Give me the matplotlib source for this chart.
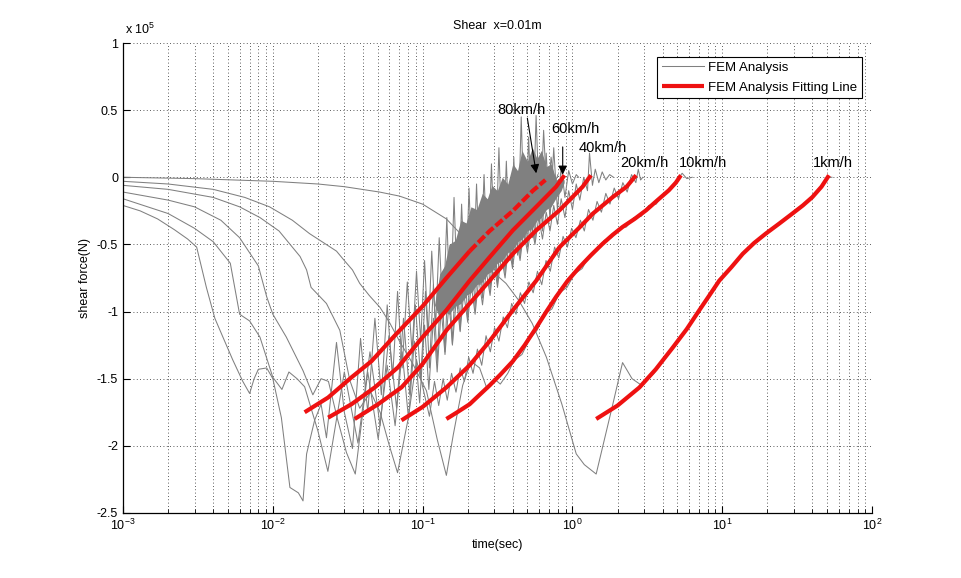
import matplotlib
matplotlib.use("Agg")
import matplotlib.pyplot as plt

plt.rcParams['font.family'] = ['Liberation Sans', 'DejaVu Sans']
plt.rcParams['mathtext.fontset'] = 'custom'
plt.rcParams['mathtext.rm'] = 'Liberation Sans'
plt.rcParams['mathtext.it'] = 'Liberation Sans:italic'

# FEM analysis curves (shear force in 1e5 N)
t80 = [0.001, 0.0013, 0.0017, 0.0022, 0.0027, 0.0031, 0.0036, 0.0041, 0.0046, 0.0054, 0.0063, 0.0070, 0.0075, 0.0080, 0.0091, 0.0100, 0.0114, 0.0130, 0.0148, 0.0159,
       0.0168, 0.0190, 0.0210, 0.0228, 0.0266, 0.0300, 0.0340, 0.0385, 0.0430, 0.0480, 0.0530, 0.0580, 0.0630, 0.0680, 0.0730, 0.0790, 0.0850, 0.0910, 0.0970, 0.1030,
       0.109, 0.115, 0.122, 0.129, 0.137, 0.145, 0.153, 0.162, 0.172, 0.182, 0.193, 0.204, 0.216, 0.229, 0.242, 0.257, 0.272, 0.288, 0.305, 0.323,
       0.342, 0.362, 0.384, 0.406, 0.430, 0.455, 0.482, 0.510, 0.540, 0.572, 0.606, 0.642, 0.680, 0.720, 0.760, 0.800]
f80 = [-0.21, -0.25, -0.31, -0.39, -0.46, -0.52, -0.82, -1.05, -1.18, -1.36, -1.52, -1.61, -1.50, -1.43, -1.42, -1.50, -1.79, -2.31, -2.35, -2.41,
       -2.06, -1.81, -1.69, -1.94, -1.23, -1.75, -2.02, -1.20, -1.75, -1.05, -1.62, -0.95, -1.50, -0.85, -1.42, -0.78, -1.30, -0.70, -1.22, -0.62,
       -1.18, -0.55, -1.12, -0.45, -1.05, -0.30, -1.02, -0.15, -0.98, -0.20, -0.90, -0.08, -0.85, -0.05, -0.80, 0.02, -0.72, 0.10, -0.70, 0.22,
       -0.65, 0.12, -0.62, 0.15, -0.58, 0.45, -0.50, 0.30, -0.45, 0.46, -0.35, 0.35, -0.20, 0.15, -0.05, 0.02]

t60 = [0.001, 0.002, 0.003, 0.004, 0.0052, 0.0060, 0.0070, 0.0082, 0.0100, 0.0115, 0.0128, 0.0145, 0.0163, 0.0200, 0.0233,
       0.0300, 0.0370, 0.0445, 0.0520, 0.0595, 0.0670, 0.0745, 0.0820, 0.0895, 0.0970, 0.1045,
       0.111, 0.118, 0.125, 0.133, 0.141, 0.149, 0.158, 0.168, 0.178, 0.188, 0.200, 0.211, 0.224, 0.237, 0.251, 0.266, 0.282, 0.299, 0.316, 0.335,
       0.355, 0.376, 0.398, 0.422, 0.447, 0.473, 0.501, 0.531, 0.562, 0.596, 0.631, 0.668, 0.708, 0.750, 0.794, 0.841, 0.891, 0.944, 1.00, 1.06, 1.10]
f60 = [-0.16, -0.27, -0.38, -0.48, -0.64, -1.02, -1.07, -1.19, -1.49, -1.58, -1.45, -1.50, -1.56, -1.89, -2.19,
       -1.45, -1.98, -1.30, -1.85, -1.18, -1.72, -1.05, -1.62, -0.95, -1.50, -0.85,
       -1.42, -0.80, -1.38, -0.72, -1.30, -0.65, -1.24, -0.60, -1.14, -0.50, -1.06, -0.45, -0.98, -0.40, -0.90, -0.34, -0.85, -0.30, -0.80, -0.22,
       -0.72, -0.15, -0.65, -0.10, -0.60, -0.02, -0.52, 0.05, -0.48, 0.12, -0.40, 0.18, -0.32, 0.22, -0.25, 0.08, -0.15, 0.05, -0.05, 0.02, 0.0]

t40 = [0.001, 0.002, 0.003, 0.0045, 0.0060, 0.0080, 0.0091, 0.0100, 0.0123, 0.0159, 0.0185, 0.0210, 0.0235, 0.0270, 0.0310, 0.0355,
       0.0430, 0.0505, 0.0580, 0.0655, 0.0730, 0.0805, 0.0880, 0.0955, 0.103, 0.110, 0.118, 0.125, 0.133, 0.141, 0.150, 0.158, 0.168, 0.178, 0.188, 0.200,
       0.211, 0.224, 0.237, 0.251, 0.266, 0.282, 0.299, 0.316, 0.335, 0.355, 0.376, 0.398, 0.422, 0.447, 0.473, 0.501, 0.531, 0.562, 0.596, 0.631,
       0.668, 0.708, 0.750, 0.794, 0.841, 0.891, 0.944, 1.00, 1.06, 1.12, 1.19, 1.26, 1.30, 1.36, 1.42, 1.50, 1.58, 1.67, 1.77, 1.88]
f40 = [-0.11, -0.17, -0.22, -0.32, -0.45, -0.66, -0.89, -1.02, -1.19, -1.44, -1.62, -1.50, -1.52, -1.80, -2.05, -2.21,
       -1.45, -1.95, -1.40, -1.85, -1.30, -1.80, -1.22, -1.68, -1.10, -1.58, -1.05, -1.45, -0.98, -1.32, -0.93, -1.25, -0.90, -1.15, -0.86, -1.08,
       -0.80, -1.02, -0.75, -0.95, -0.70, -0.88, -0.62, -0.82, -0.58, -0.75, -0.50, -0.68, -0.46, -0.62, -0.40, -0.56, -0.35, -0.50, -0.30, -0.46,
       -0.26, -0.40, -0.21, -0.35, -0.16, -0.30, -0.10, -0.24, -0.05, -0.17, 0.0, -0.10, 0.18, -0.06, 0.06, -0.04, 0.04, -0.02, 0.02, 0.0]

t20 = [0.001, 0.002, 0.004, 0.006, 0.0082, 0.011, 0.0152, 0.0168, 0.018, 0.0228, 0.028, 0.0326, 0.038, 0.045, 0.052, 0.060, 0.068,
       0.080, 0.091, 0.111, 0.120, 0.128, 0.137, 0.146, 0.156, 0.167, 0.178, 0.190, 0.203, 0.217, 0.232, 0.248, 0.265, 0.283, 0.302, 0.323, 0.345,
       0.368, 0.393, 0.420, 0.449, 0.479, 0.512, 0.547, 0.584, 0.624, 0.666, 0.711, 0.760, 0.811, 0.866, 0.925, 0.988, 1.055, 1.13, 1.20, 1.28,
       1.37, 1.46, 1.56, 1.67, 1.78, 1.90, 2.03, 2.17, 2.32, 2.48, 2.65, 2.75, 2.85, 2.95]
f20 = [-0.06, -0.09, -0.15, -0.22, -0.30, -0.40, -0.59, -0.69, -0.82, -0.94, -1.14, -1.51, -1.72, -1.60, -1.75, -2.00, -2.20,
       -1.80, -1.36, -1.78, -1.52, -1.70, -1.50, -1.66, -1.46, -1.60, -1.42, -1.52, -1.34, -1.46, -1.28, -1.40, -1.18, -1.30, -1.12, -1.22, -1.04,
       -1.12, -0.94, -1.02, -0.86, -0.94, -0.78, -0.86, -0.70, -0.80, -0.62, -0.70, -0.52, -0.60, -0.44, -0.52, -0.38, -0.45, -0.32, -0.40, -0.24,
       -0.32, -0.18, -0.26, -0.12, -0.20, -0.08, -0.16, -0.04, -0.11, 0.02, -0.04, 0.06, -0.02, 0.0]

t10 = [0.001, 0.002, 0.004, 0.0065, 0.0095, 0.0135, 0.0176, 0.022, 0.0266, 0.030, 0.034, 0.038, 0.044, 0.052, 0.060, 0.070, 0.086, 0.106, 0.125, 0.144,
       0.160, 0.185, 0.210, 0.240, 0.270, 0.300, 0.330, 0.370, 0.410, 0.460, 0.520, 0.580, 0.650, 0.730, 0.820, 0.920, 1.03, 1.16, 1.30, 1.45,
       1.63, 1.82, 2.04, 2.29, 2.57, 2.88, 3.23, 3.62, 4.06, 4.55, 5.00, 5.40, 5.80, 6.30]
f10 = [-0.03, -0.05, -0.09, -0.15, -0.22, -0.32, -0.42, -0.49, -0.55, -0.62, -0.69, -0.79, -0.88, -0.97, -1.08, -1.22, -1.39, -1.59, -1.95, -2.22,
       -1.92, -1.55, -1.37, -1.42, -1.58, -1.50, -1.54, -1.46, -1.36, -1.32, -1.20, -1.14, -1.02, -0.98, -0.86, -0.82, -0.72, -0.68, -0.58, -0.55,
       -0.47, -0.45, -0.38, -0.37, -0.30, -0.29, -0.21, -0.20, -0.12, -0.09, -0.02, 0.03, -0.01, 0.0]

t1 = [0.001, 0.003, 0.01, 0.02, 0.03, 0.0516, 0.07, 0.10, 0.144, 0.205, 0.24, 0.28, 0.32, 0.36, 0.44, 0.54, 0.67, 0.85, 1.06, 1.20,
      1.44, 1.86, 2.16, 2.50, 2.90, 3.50, 4.66, 7.03, 9.55, 13.7, 19.5, 29.4, 40.0, 51.6, 54.0]
f1 = [0.0, -0.01, -0.03, -0.05, -0.07, -0.11, -0.14, -0.20, -0.31, -0.49, -0.60, -0.69, -0.74, -0.79, -0.92, -1.09, -1.34, -1.69, -2.06, -2.14,
      -2.21, -1.69, -1.38, -1.50, -1.55, -1.46, -1.28, -0.99, -0.77, -0.57, -0.42, -0.27, -0.15, 0.0, 0.0]

# dense oscillation core of the fast runs (upper / lower edge)
band_t = [0.12, 0.13, 0.14, 0.15, 0.165, 0.18, 0.195, 0.21, 0.23, 0.25, 0.27, 0.29, 0.315, 0.34, 0.37, 0.40, 0.43, 0.46, 0.50, 0.54,
          0.58, 0.62, 0.67, 0.72, 0.78, 0.84, 0.88]
band_hi = [-0.95, -0.72, -0.66, -0.50, -0.47, -0.32, -0.34, -0.22, -0.24, -0.12, -0.16, -0.06, -0.10, 0.0, -0.05, 0.10, 0.05, 0.20, 0.12, 0.22,
           0.14, 0.20, 0.08, 0.10, -0.02, 0.0, -0.02]
band_lo = [-0.95, -1.05, -1.00, -1.02, -0.96, -0.94, -0.88, -0.86, -0.80, -0.78, -0.72, -0.70, -0.64, -0.62, -0.56, -0.54, -0.48, -0.46, -0.40, -0.38,
           -0.32, -0.30, -0.24, -0.22, -0.15, -0.10, -0.04]

# fitting lines
fit80_t = [0.0163, 0.0234, 0.0335, 0.0455, 0.065, 0.100, 0.144, 0.206, 0.280, 0.400, 0.544, 0.660]
fit80 = [-1.75, -1.64, -1.49, -1.37, -1.18, -0.96, -0.75, -0.55, -0.40, -0.25, -0.10, -0.02]
fit60_t = [0.0234, 0.0335, 0.0479, 0.0685, 0.100, 0.144, 0.206, 0.280, 0.400, 0.573, 0.778, 0.885]
fit60 = [-1.79, -1.69, -1.565, -1.415, -1.19, -0.99, -0.77, -0.595, -0.395, -0.22, -0.07, 0.015]
fit40_t = [0.0352, 0.0504, 0.0722, 0.100, 0.144, 0.206, 0.280, 0.400, 0.573, 0.819, 1.17, 1.33]
fit40 = [-1.80, -1.69, -1.565, -1.39, -1.14, -0.94, -0.77, -0.57, -0.395, -0.246, -0.07, 0.015]
fit20_t = [0.0722, 0.100, 0.144, 0.206, 0.280, 0.400, 0.573, 0.820, 1.10, 1.37, 1.86, 2.30, 2.66]
fit20 = [-1.81, -1.71, -1.565, -1.40, -1.22, -0.99, -0.77, -0.52, -0.38, -0.27, -0.147, -0.07, 0.015]
fit10_t = [0.144, 0.170, 0.206, 0.240, 0.280, 0.330, 0.400, 0.480, 0.573, 0.670, 0.778, 0.930, 1.114, 1.33, 1.59, 1.85, 2.16, 2.60, 3.10, 3.70, 4.40, 4.90, 5.30]
fit10 = [-1.80, -1.75, -1.69, -1.62, -1.55, -1.47, -1.37, -1.25, -1.12, -1.00, -0.89, -0.77, -0.67, -0.58, -0.495, -0.43, -0.37, -0.31, -0.246, -0.17, -0.097, -0.04, 0.015]
fit1_t = [1.44, 2.00, 2.80, 3.60, 4.66, 5.80, 7.03, 8.20, 9.55, 11.5, 13.7, 16.3, 19.5, 24.0, 29.4, 34.5, 40.0, 46.0, 51.6]
fit1 = [-1.80, -1.70, -1.565, -1.43, -1.27, -1.13, -0.99, -0.88, -0.77, -0.67, -0.57, -0.49, -0.42, -0.345, -0.27, -0.21, -0.147, -0.07, 0.015]

speed_labels = ['80km/h', '60km/h', '40km/h', '20km/h', '10km/h', '1km/h']
label_t = [0.316, 0.724, 1.10, 2.08, 5.17, 40.0]
label_y = [0.50, 0.36, 0.22, 0.108, 0.108, 0.108]

yticks = [-2.5, -2, -1.5, -1, -0.5, 0, 0.5, 1]
ytick_labels = ['-2.5', '-2', '-1.5', '-1', '-0.5', '0', '0.5', '1']

grey = '#808080'
red = '#ee1111'

fig = plt.figure(figsize=(9.62, 5.78), dpi=100)
ax = fig.add_axes([0.1279, 0.1125, 0.7786, 0.8131])

ax.fill_between(band_t, band_lo, band_hi, color=grey, lw=0, zorder=1.9)

grey_sets = [(t80, f80), (t60, f60), (t40, f40), (t20, f20), (t10, f10), (t1, f1)]
for i, (tt, ff) in enumerate(grey_sets):
    ax.plot(tt, ff, color=grey, lw=0.75, zorder=2, label='FEM Analysis' if i == 0 else None)

red_sets = [(fit60_t, fit60), (fit40_t, fit40), (fit20_t, fit20), (fit10_t, fit10), (fit1_t, fit1)]
ax.plot(fit80_t[:8], fit80[:8], color=red, lw=3.0, solid_capstyle='butt', zorder=3,
        label='FEM Analysis Fitting Line')
ax.plot(fit80_t[7:], fit80[7:], color=red, lw=3.0, ls=(0, (2.2, 0.7)), dash_capstyle='butt', zorder=3)
for tt, ff in red_sets:
    ax.plot(tt, ff, color=red, lw=3.0, solid_capstyle='butt', solid_joinstyle='round', zorder=3)

for s, tx, ty in zip(speed_labels, label_t, label_y):
    ax.text(tx, ty, s, fontsize=10.5, ha='left', va='center', zorder=5)

arrow = dict(arrowstyle='-|>', color='k', lw=0.8, mutation_scale=13, shrinkA=0, shrinkB=0)
ax.annotate('', xy=(0.573, 0.03), xytext=(0.50, 0.44), arrowprops=arrow, zorder=5)
ax.annotate('', xy=(0.861, 0.02), xytext=(0.861, 0.226), arrowprops=arrow, zorder=5)

ax.set_xscale('log')
ax.set_xlim(1e-3, 1e2)
ax.set_ylim(-2.5, 1)
ax.set_yticks(yticks)
ax.set_yticklabels(ytick_labels)

ax.grid(True, which='major', color='0.15', lw=0.6, ls=(0, (1, 3)))
ax.grid(True, which='minor', axis='x', color='0.15', lw=0.6, ls=(0, (1, 3)))
ax.set_axisbelow(True)

for side in ['top', 'right']:
    ax.spines[side].set_visible(False)
for side in ['left', 'bottom']:
    ax.spines[side].set_linewidth(0.9)
ax.tick_params(which='both', direction='in', labelsize=9, top=False, right=False)
ax.tick_params(which='major', length=5)
ax.tick_params(which='minor', length=3)

ax.set_xlabel('time(sec)', fontsize=9)
ax.set_ylabel('shear force(N)', fontsize=9)
ax.set_title('Shear  x=0.01m', fontsize=9, pad=10)
ax.text(0.003, 1.012, r'x 10$^5$', transform=ax.transAxes, fontsize=9, ha='left', va='bottom')

leg = ax.legend(loc='upper right', bbox_to_anchor=(0.995, 0.985), fontsize=9.5, fancybox=False,
                edgecolor='k', framealpha=1, handlelength=3.2, handletextpad=0.3,
                labelspacing=0.6, borderpad=0.35)
leg.get_frame().set_linewidth(0.8)

fig.savefig('out.png', dpi=100)
